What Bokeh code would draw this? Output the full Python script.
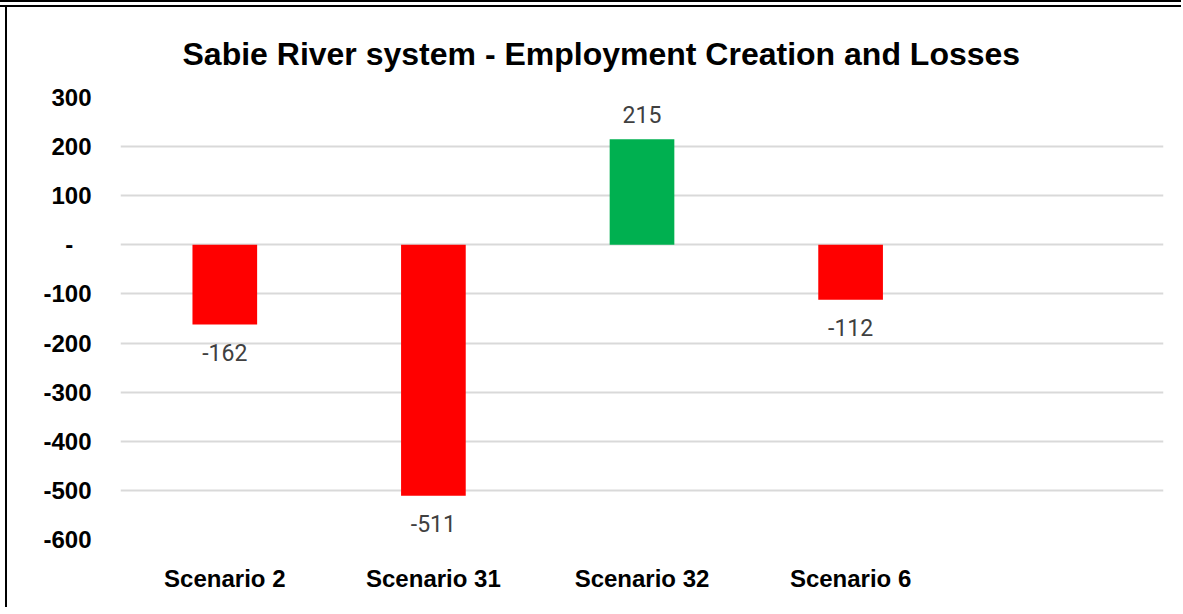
from bokeh.plotting import figure
from bokeh.layouts import column
from bokeh.models import FactorRange, Range1d, FixedTicker, ColumnDataSource
from bokeh.core.properties import value
from bokeh.embed import file_html
from bokeh.resources import INLINE

categories = ["Scenario 2", "Scenario 31", "Scenario 32", "Scenario 6", " "]
scenarios = ["Scenario 2", "Scenario 31", "Scenario 32", "Scenario 6"]
employment = [-162, -511, 215, -112]
y_ticks = [-600, -500, -400, -300, -200, -100, 0, 100, 200, 300]
y_tick_labels = ["-600", "-500", "-400", "-300", "-200", "-100",
                 "-\u00a0\u00a0\u2009", "100", "200", "300"]

colors = ["#FF0000" if v < 0 else "#00B050" for v in employment]
labels = [str(v) for v in employment]
offsets = [28 if v < 0 else -25 for v in employment]

src = ColumnDataSource(dict(x=scenarios, top=employment, color=colors,
                            label=labels, off=offsets))

p = figure(width=1176, height=600, output_backend="svg", toolbar_location=None,
           x_range=FactorRange(*categories, range_padding=0),
           y_range=Range1d(-600, 300),
           title="Sabie River system - Employment Creation and Losses",
           min_border_left=113, min_border_right=20, min_border_top=90,
           min_border_bottom=68)
p.margin = (0, 0, 0, 5)
p.styles = {"border-left": "2px solid black"}
p.x_range.factor_padding = 0
p.x_range.range_padding = 0
p.outline_line_color = None
p.background_fill_color = "white"
p.border_fill_color = "white"

p.title.align = "left"
p.title.offset = 62
p.title.text_font = "Liberation Sans"
p.title.text_font_size = "32px"
p.title.text_font_style = "bold"
p.title.text_color = "black"
p.title.standoff = 52

p.vbar(x="x", top="top", bottom=0, width=0.31, fill_color="color",
       line_color=None, source=src)
p.text(x="x", y="top", text="label", y_offset="off", source=src,
       text_align="center", text_baseline="middle",
       text_font=value("Roboto"), text_font_size="23px", text_color="#404040")

p.yaxis.ticker = FixedTicker(ticks=y_ticks)
p.yaxis.major_label_overrides = dict(zip(y_ticks, y_tick_labels))
p.yaxis.axis_line_color = None
p.yaxis.major_tick_line_color = None
p.yaxis.major_tick_out = 0
p.yaxis.major_tick_in = 0
p.yaxis.minor_tick_line_color = None
p.yaxis.major_label_standoff = 29
p.yaxis.major_label_text_font = "Liberation Sans"
p.yaxis.major_label_text_font_size = "24px"
p.yaxis.major_label_text_font_style = "bold"
p.yaxis.major_label_text_color = "black"

p.xaxis.axis_line_color = None
p.xaxis.major_tick_line_color = None
p.xaxis.major_tick_out = 0
p.xaxis.major_tick_in = 0
p.xaxis.major_label_standoff = 25
p.xaxis.major_label_text_font = "Liberation Sans"
p.xaxis.major_label_text_font_size = "24px"
p.xaxis.major_label_text_font_style = "bold"
p.xaxis.major_label_text_color = "black"

p.xgrid.grid_line_color = None
p.ygrid.ticker = FixedTicker(ticks=y_ticks)
p.ygrid.grid_line_color = "#D9D9D9"
p.ygrid.grid_line_width = 2

lay = column(p, styles={"border-top": "7px double black"})

open("out.html", "w").write(file_html(lay, INLINE))
